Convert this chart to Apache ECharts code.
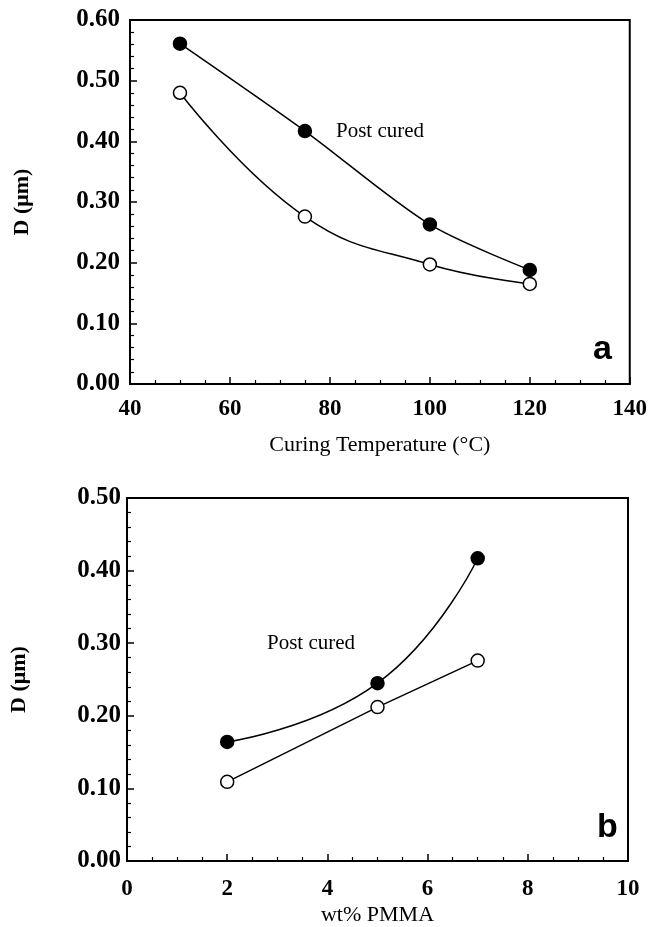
<!DOCTYPE html>
<html>
<head>
<meta charset="utf-8">
<script src="https://cdn.jsdelivr.net/npm/echarts@6/dist/echarts.min.js"></script>
<style>
html,body{margin:0;padding:0;background:#fff;}
#c{width:650px;height:927px;}
</style>
</head>
<body>
<div id="c"></div>
<script>
// Panel a: curing temperature
var tempCategories = [50, 75, 100, 120];
var tempPostCured = [0.561, 0.417, 0.263, 0.188];
var tempAsCured = [0.480, 0.276, 0.197, 0.165];
// Panel b: wt% PMMA
var pmmaCategories = [2, 5, 7];
var pmmaPostCured = [0.164, 0.245, 0.417];
var pmmaAsCured = [0.109, 0.212, 0.276];

var serif = 'Liberation Serif';
function pairs(xs, ys){ return xs.map(function(x,i){ return [x, ys[i]]; }); }

var chart = echarts.init(document.getElementById('c'), null, {renderer:'canvas'});

function xAxisCfg(gi, min, max, interval, name, nameGap, labelMargin){
  return {
    gridIndex: gi, type:'value', min:min, max:max, interval:interval,
    name:name, nameLocation:'middle', nameGap:nameGap,
    nameTextStyle:{fontFamily:serif, fontSize:22, color:'#000'},
    axisLine:{show:true, onZero:false, lineStyle:{color:'#000', width:2}},
    axisTick:{show:true, inside:true, length:7, lineStyle:{color:'#000', width:1.5}},
    minorTick:{show:true, splitNumber:4, length:4, lineStyle:{color:'#000', width:1.2}},
    axisLabel:{fontFamily:serif, fontWeight:'bold', fontSize:23, color:'#000', margin:labelMargin},
    splitLine:{show:false}
  };
}
function yAxisCfg(gi, max, nameGap, labelMargin){
  return {
    gridIndex: gi, type:'value', min:0, max:max, interval:0.1,
    name:'D (\u03bcm)', nameLocation:'middle', nameGap:nameGap,
    nameTextStyle:{fontFamily:serif, fontWeight:'bold', fontSize:22, color:'#000'},
    axisLine:{show:true, onZero:false, lineStyle:{color:'#000', width:2}},
    axisTick:{show:true, inside:true, length:7, lineStyle:{color:'#000', width:1.5}},
    minorTick:{show:true, splitNumber:5, length:4, lineStyle:{color:'#000', width:1.2}},
    axisLabel:{fontFamily:serif, fontWeight:'bold', fontSize:25, color:'#000', margin:labelMargin,
      formatter:function(v){ return v.toFixed(2); }},
    splitLine:{show:false}
  };
}
function lineSeries(xi, yi, data, filled, smooth){
  return {
    type:'line', xAxisIndex:xi, yAxisIndex:yi, data:data, smooth:smooth,
    symbol:'circle', symbolSize:13,
    lineStyle:{color:'#000', width:1.5},
    itemStyle:{color: filled ? '#000' : '#fff', borderColor:'#000', borderWidth:1.5},
    z: filled ? 3 : 2
  };
}

chart.setOption({
  animation:false,
  backgroundColor:'#fff',
  grid:[
    {left:130, top:20, width:502, height:364, show:true, borderColor:'#000', borderWidth:2, backgroundColor:'transparent'},
    {left:124, top:498, width:504, height:364, show:true, borderColor:'#000', borderWidth:2, backgroundColor:'transparent'}
  ],
  xAxis:[
    xAxisCfg(0, 40, 140, 20, 'Curing Temperature (\u00b0C)', 50, 14),
    xAxisCfg(1, 0, 10, 2, 'wt% PMMA', 43, 17)
  ],
  yAxis:[
    yAxisCfg(0, 0.6, 97, 10),
    yAxisCfg(1, 0.5, 97, 6)
  ],
  series:[
    lineSeries(0,0, pairs(tempCategories, tempPostCured), true, 0.3),
    lineSeries(0,0, pairs(tempCategories, tempAsCured), false, 0.45),
    lineSeries(1,1, pairs(pmmaCategories, pmmaPostCured), true, 0.5),
    lineSeries(1,1, pairs(pmmaCategories, pmmaAsCured), false, false)
  ],
  graphic:[
    {type:'text', left:336, top:121, style:{text:'Post cured', font:'21px "Liberation Serif"', fill:'#000'}},
    {type:'text', left:267, top:633, style:{text:'Post cured', font:'21px "Liberation Serif"', fill:'#000'}},
    {type:'text', left:593, top:333, style:{text:'a', font:'bold 34px "Liberation Sans"', fill:'#000'}},
    {type:'text', left:597, top:811, style:{text:'b', font:'bold 34px "Liberation Sans"', fill:'#000'}}
  ]
});
</script>
</body>
</html>
